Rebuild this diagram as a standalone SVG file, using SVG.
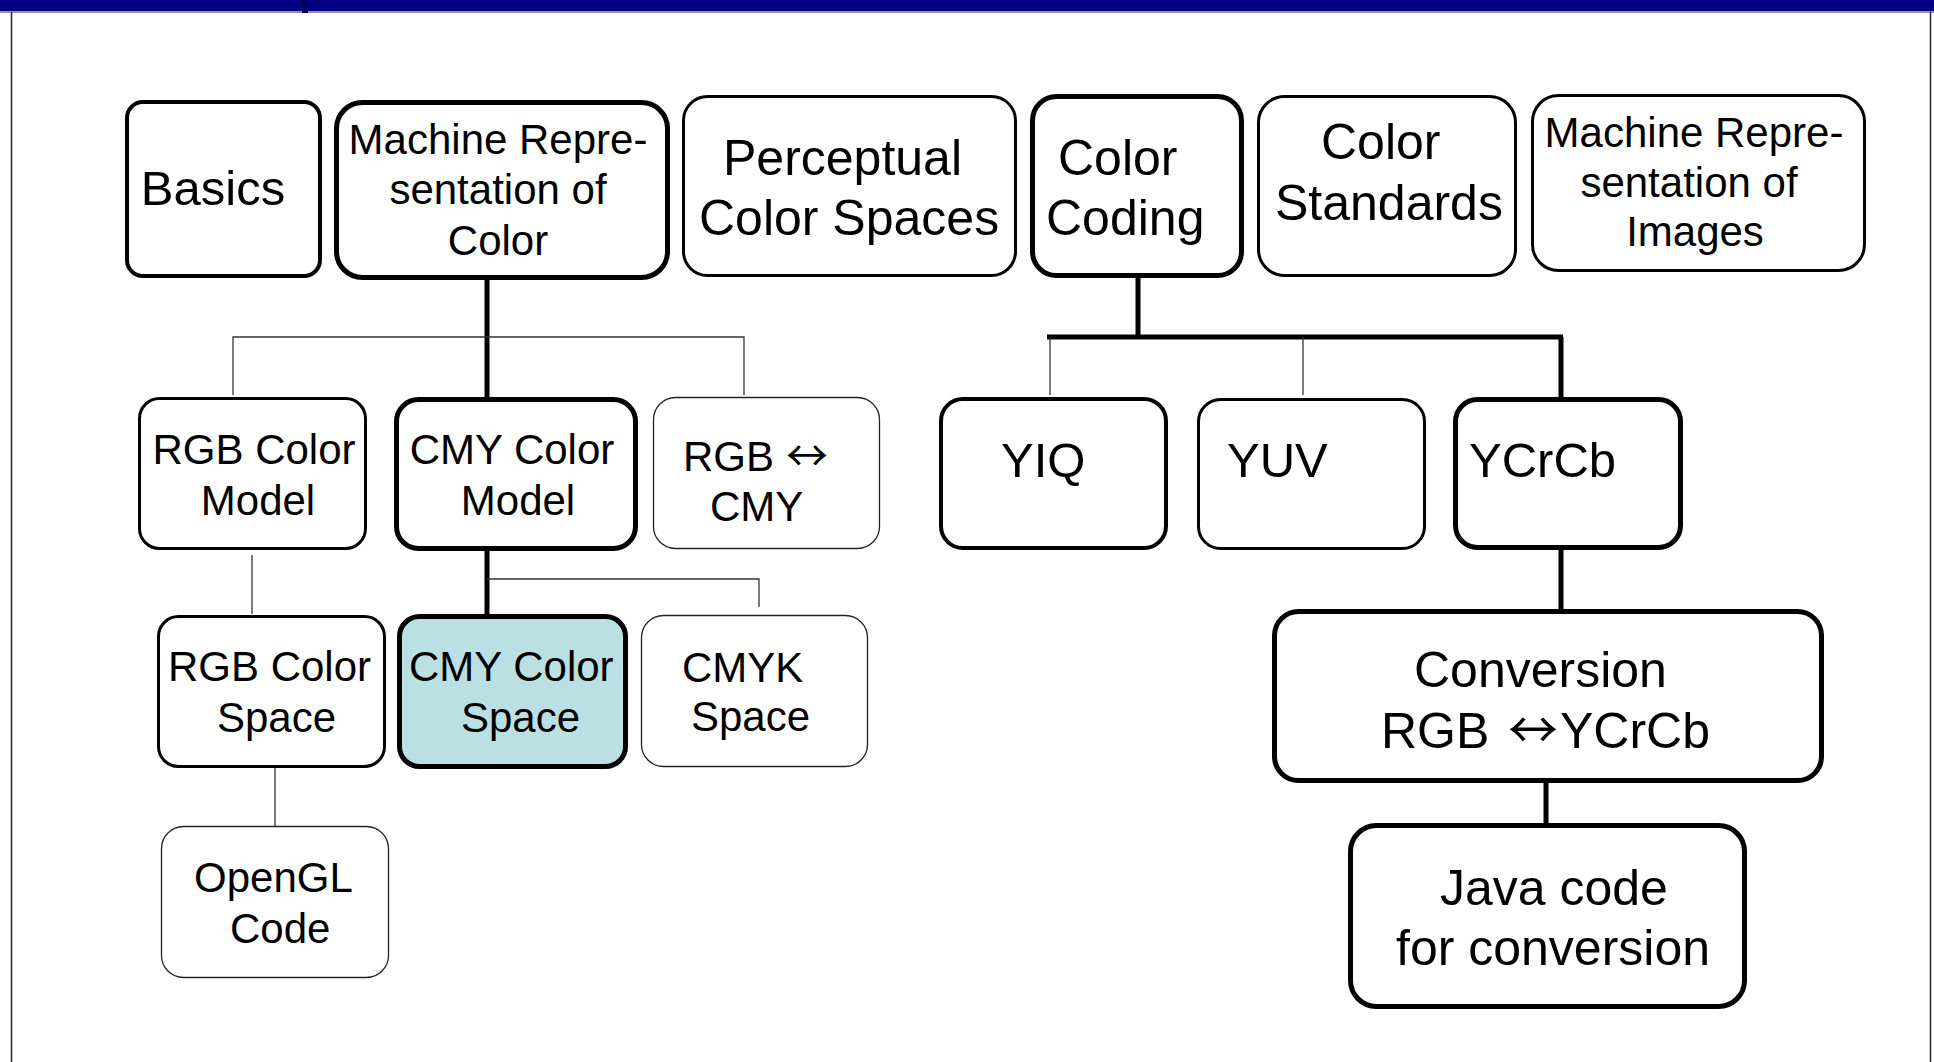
<svg xmlns="http://www.w3.org/2000/svg" width="1934" height="1062" viewBox="0 0 1934 1062">
  <style>
    .box { fill: #ffffff; stroke: #000000; }
    .w5 { stroke-width: 5; }
    .w4 { stroke-width: 4; }
    .w3 { stroke-width: 3; }
    .w1 { stroke-width: 1.3; stroke: #222222; }
    .teal { fill: #bbe0e4; }
    text { font-family: "Liberation Sans", Arial, sans-serif; fill: #000000; }
    .arr { font-family: "Noto Sans CJK SC", "DejaVu Sans", sans-serif; }
    .f42 { font-size: 42px; }
    .f49 { font-size: 49px; }
    .f50 { font-size: 50px; }
    .mid { text-anchor: middle; }
    .thick { fill: none; stroke: #000000; stroke-width: 5; }
    .thin { fill: none; stroke: #333333; stroke-width: 1.3; }
  </style>
  <rect x="0" y="0" width="1934" height="1062" fill="#ffffff"/>
  <g id="frame">
    <rect x="0" y="0" width="1934" height="11" fill="#000080"/>
    <line x1="0" y1="12" x2="1934" y2="12" stroke="#6a6a9a" stroke-width="1.5"/>
    <rect x="302" y="0" width="6" height="13" fill="#000060"/>
    <line x1="11.5" y1="12" x2="11.5" y2="1062" stroke="#222222" stroke-width="1.5"/>
    <line x1="1930.5" y1="12" x2="1930.5" y2="1062" stroke="#222222" stroke-width="1.5"/>
  </g>

  <g id="connectors">
    <path class="thick" d="M487 280 V397"/>
    <path class="thick" d="M487 550 V620"/>
    <path class="thick" d="M1138 278 V337"/>
    <path class="thick" d="M1047 337 H1563"/>
    <path class="thick" d="M1561 337 V397"/>
    <path class="thick" d="M1561 550 V609"/>
    <path class="thick" d="M1546 783 V823"/>
    <path class="thin" d="M233 395 V337 H744 V395"/>
    <path class="thin" d="M252 555 V614"/>
    <path class="thin" d="M487 579 H759 V607"/>
    <path class="thin" d="M275 762 V830"/>
    <path class="thin" d="M1050 337 V395"/>
    <path class="thin" d="M1303 337 V395"/>
  </g>

  <g id="basics">
    <rect class="box w4" x="127" y="102" width="193" height="174" rx="16"/>
    <text class="f49 mid" x="213" y="205">Basics</text>
  </g>
  <g id="machine-color">
    <rect class="box w5" x="336.5" y="102.5" width="331" height="175" rx="26"/>
    <text class="f42 mid" x="498" y="154">Machine Repre-</text>
    <text class="f42 mid" x="498" y="204">sentation of</text>
    <text class="f42 mid" x="498" y="255">Color</text>
  </g>
  <g id="perceptual">
    <rect class="box w3" x="683.5" y="96.5" width="332" height="179" rx="24"/>
    <text class="f50" x="723" y="175">Perceptual</text>
    <text class="f50" x="699" y="235">Color Spaces</text>
  </g>
  <g id="color-coding">
    <rect class="box w5" x="1032.5" y="96.5" width="209" height="179" rx="24"/>
    <text class="f50" x="1058" y="175">Color</text>
    <text class="f50" x="1046" y="235">Coding</text>
  </g>
  <g id="color-standards">
    <rect class="box w3" x="1258.5" y="96.5" width="257" height="179" rx="26"/>
    <text class="f50" x="1321" y="159">Color</text>
    <text class="f50" x="1275" y="220">Standards</text>
  </g>
  <g id="machine-images">
    <rect class="box w3" x="1532.5" y="95.5" width="332" height="175" rx="26"/>
    <text class="f42 mid" x="1694" y="147">Machine Repre-</text>
    <text class="f42 mid" x="1689" y="197">sentation of</text>
    <text class="f42 mid" x="1695" y="246">Images</text>
  </g>

  <g id="rgb-model">
    <rect class="box w3" x="139.5" y="398.5" width="226" height="150" rx="20"/>
    <text class="f42 mid" x="254" y="464">RGB Color</text>
    <text class="f42 mid" x="258" y="515">Model</text>
  </g>
  <g id="cmy-model">
    <rect class="box w5" x="396.5" y="399.5" width="239" height="149" rx="22"/>
    <text class="f42 mid" x="512" y="464">CMY Color</text>
    <text class="f42 mid" x="518" y="515">Model</text>
  </g>
  <g id="rgb-cmy">
    <rect class="box w1" x="653.5" y="397.5" width="226" height="151" rx="22"/>
    <text class="f42" x="683" y="471">RGB <tspan class="arr" x="786">↔</tspan></text>
    <text class="f42" x="710" y="521">CMY</text>
  </g>
  <g id="yiq">
    <rect class="box w4" x="941" y="399" width="225" height="149" rx="22"/>
    <text class="f49" x="1001" y="477">YIQ</text>
  </g>
  <g id="yuv">
    <rect class="box w3" x="1198.5" y="399.5" width="226" height="149" rx="22"/>
    <text class="f49" x="1227" y="477">YUV</text>
  </g>
  <g id="ycrcb">
    <rect class="box w5" x="1455.5" y="399.5" width="225" height="148" rx="22"/>
    <text class="f49" x="1469" y="477">YCrCb</text>
  </g>

  <g id="rgb-space">
    <rect class="box w3" x="158.5" y="616.5" width="226" height="150" rx="20"/>
    <text class="f42" x="168" y="681">RGB Color</text>
    <text class="f42" x="217" y="732">Space</text>
  </g>
  <g id="cmy-space">
    <rect class="box teal w5" x="399.5" y="616.5" width="226" height="150" rx="20"/>
    <text class="f42" x="409" y="681">CMY Color</text>
    <text class="f42" x="461" y="732">Space</text>
  </g>
  <g id="cmyk-space">
    <rect class="box w1" x="641.5" y="615.5" width="226" height="151" rx="22"/>
    <text class="f42" x="682" y="682">CMYK</text>
    <text class="f42" x="691" y="731">Space</text>
  </g>
  <g id="conversion">
    <rect class="box w5" x="1274.5" y="611.5" width="547" height="169" rx="24"/>
    <text class="f50" x="1414" y="687">Conversion</text>
    <text class="f50" x="1381" y="748">RGB <tspan class="arr" x="1508">↔</tspan><tspan x="1560">YCrCb</tspan></text>
  </g>

  <g id="opengl">
    <rect class="box w1" x="161.5" y="826.5" width="227" height="151" rx="22"/>
    <text class="f42" x="194" y="892">OpenGL</text>
    <text class="f42" x="230" y="943">Code</text>
  </g>
  <g id="java">
    <rect class="box w5" x="1350.5" y="825.5" width="394" height="181" rx="26"/>
    <text class="f50" x="1440" y="905">Java code</text>
    <text class="f50" x="1396" y="965">for conversion</text>
  </g>
</svg>
